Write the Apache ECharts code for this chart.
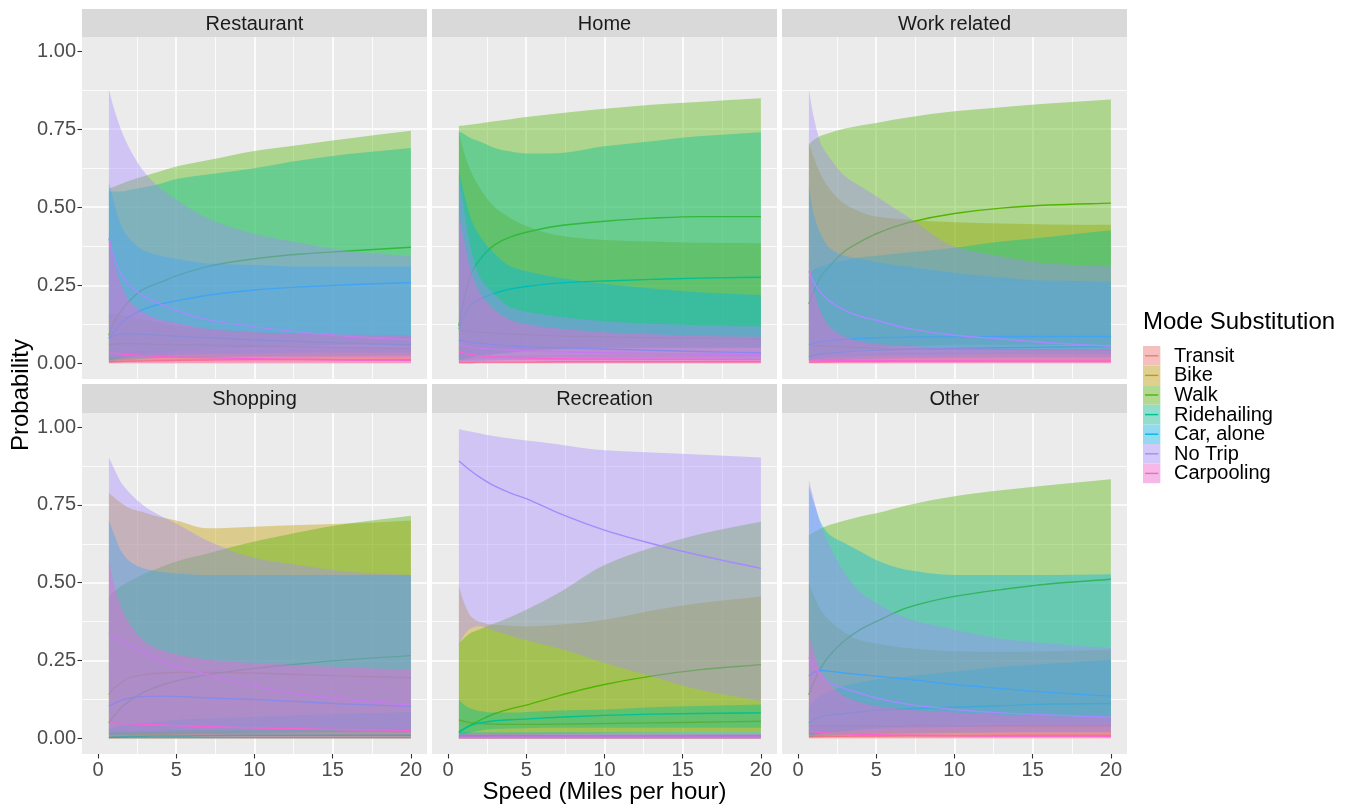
<!DOCTYPE html>
<html>
<head>
<meta charset="utf-8">
<script src="https://cdn.jsdelivr.net/npm/echarts@6/dist/echarts.min.js"></script>
<style>
html,body{margin:0;padding:0;background:#ffffff;}
#chart{width:1351px;height:807px;}
</style>
</head>
<body>
<div id="chart"></div>
<script>
// ---------------- data ----------------
const speeds = [0.7, 1, 1.5, 2, 3, 4, 5, 7, 10, 13, 16, 20];
const modes = ['Transit', 'Bike', 'Walk', 'Ridehailing', 'Car, alone', 'No Trip', 'Carpooling'];
const modeColors = ['#F8766D', '#C49A00', '#53B400', '#00C094', '#00B6EB', '#A58AFF', '#FB61D7'];
const panels = ['Restaurant', 'Home', 'Work related', 'Shopping', 'Recreation', 'Other'];
const xTicks = [0, 5, 10, 15, 20];
const yTicks = [0, 0.25, 0.5, 0.75, 1];

// each array: one row per mode (Transit, Bike, Walk, Ridehailing, Car alone, No Trip, Carpooling)
const restaurantLo = [
  [0,0,0,0,0,0,0,0,0,0,0,0],
  [0.005,0.006,0.007,0.008,0.009,0.01,0.01,0.01,0.01,0.01,0.01,0.01],
  [0.01,0.015,0.02,0.025,0.03,0.035,0.04,0.045,0.05,0.055,0.06,0.06],
  [0.005,0.008,0.01,0.012,0.015,0.017,0.018,0.02,0.022,0.023,0.024,0.025],
  [0.01,0.012,0.015,0.018,0.022,0.025,0.028,0.03,0.032,0.034,0.035,0.035],
  [0.02,0.02,0.02,0.02,0.02,0.02,0.02,0.02,0.02,0.02,0.02,0.02],
  [0.002,0.002,0.002,0.002,0.002,0.002,0.002,0.002,0.002,0.002,0.002,0.002]
];
const restaurantMid = [
  [0.004,0.005,0.006,0.007,0.008,0.009,0.01,0.011,0.012,0.012,0.012,0.012],
  [0.06,0.062,0.063,0.063,0.062,0.061,0.06,0.058,0.055,0.052,0.05,0.048],
  [0.09,0.13,0.17,0.2,0.24,0.26,0.28,0.31,0.335,0.35,0.36,0.372],
  [0.08,0.088,0.094,0.095,0.093,0.09,0.087,0.082,0.075,0.07,0.065,0.059],
  [0.08,0.1,0.13,0.15,0.175,0.19,0.2,0.218,0.235,0.245,0.252,0.259],
  [0.40,0.34,0.285,0.25,0.212,0.19,0.17,0.14,0.117,0.1,0.087,0.075],
  [0.033,0.032,0.03,0.028,0.025,0.022,0.02,0.018,0.015,0.013,0.011,0.01]
];
const restaurantHi = [
  [0.03,0.032,0.035,0.037,0.04,0.042,0.043,0.045,0.046,0.047,0.047,0.048],
  [0.16,0.16,0.155,0.15,0.14,0.13,0.12,0.11,0.1,0.095,0.09,0.09],
  [0.56,0.565,0.575,0.585,0.6,0.615,0.63,0.65,0.68,0.70,0.72,0.745],
  [0.55,0.55,0.55,0.555,0.565,0.575,0.59,0.605,0.625,0.65,0.67,0.69],
  [0.58,0.52,0.44,0.40,0.36,0.345,0.335,0.32,0.315,0.31,0.31,0.31],
  [0.877,0.82,0.745,0.69,0.61,0.56,0.525,0.465,0.415,0.385,0.36,0.342],
  [0.42,0.33,0.25,0.2,0.16,0.14,0.13,0.11,0.1,0.095,0.092,0.09]
];

const homeLo = [
  [0,0,0,0,0,0,0,0,0,0,0,0],
  [0.01,0.01,0.012,0.014,0.016,0.018,0.02,0.02,0.02,0.02,0.02,0.02],
  [0.01,0.015,0.02,0.025,0.03,0.035,0.04,0.045,0.05,0.05,0.05,0.05],
  [0.01,0.015,0.02,0.025,0.03,0.035,0.04,0.045,0.05,0.05,0.05,0.05],
  [0.005,0.006,0.007,0.008,0.009,0.01,0.01,0.01,0.01,0.01,0.01,0.01],
  [0.01,0.01,0.01,0.01,0.01,0.01,0.01,0.01,0.01,0.01,0.01,0.01],
  [0.001,0.001,0.001,0.001,0.001,0.001,0.001,0.001,0.001,0.001,0.001,0.001]
];
const homeMid = [
  [0.003,0.003,0.003,0.004,0.004,0.004,0.004,0.005,0.005,0.005,0.005,0.005],
  [0.107,0.105,0.103,0.1,0.097,0.094,0.092,0.088,0.085,0.082,0.08,0.078],
  [0.12,0.2,0.29,0.33,0.38,0.405,0.42,0.44,0.455,0.465,0.47,0.47],
  [0.11,0.15,0.19,0.205,0.225,0.238,0.246,0.257,0.264,0.269,0.273,0.276],
  [0.075,0.072,0.068,0.065,0.06,0.056,0.053,0.05,0.046,0.042,0.038,0.034],
  [0.059,0.056,0.052,0.049,0.045,0.042,0.04,0.037,0.034,0.032,0.03,0.028],
  [0.037,0.033,0.028,0.025,0.021,0.019,0.017,0.015,0.014,0.013,0.013,0.012]
];
const homeHi = [
  [0.02,0.021,0.022,0.023,0.024,0.025,0.026,0.027,0.028,0.029,0.03,0.03],
  [0.74,0.68,0.61,0.565,0.5,0.465,0.44,0.41,0.395,0.39,0.386,0.385],
  [0.761,0.762,0.765,0.768,0.775,0.782,0.789,0.80,0.815,0.828,0.837,0.849],
  [0.743,0.735,0.72,0.711,0.69,0.678,0.672,0.673,0.695,0.711,0.727,0.74],
  [0.615,0.55,0.46,0.41,0.35,0.31,0.295,0.275,0.255,0.24,0.228,0.219],
  [0.60,0.5,0.36,0.28,0.22,0.18,0.165,0.15,0.135,0.127,0.122,0.118],
  [0.48,0.4,0.29,0.23,0.17,0.14,0.125,0.112,0.1,0.093,0.088,0.085]
];

const workLo = [
  [0,0,0,0,0,0,0,0,0,0,0,0],
  [0.01,0.01,0.01,0.01,0.01,0.01,0.01,0.01,0.01,0.01,0.01,0.01],
  [0.02,0.025,0.03,0.035,0.04,0.045,0.05,0.055,0.06,0.06,0.06,0.06],
  [0.005,0.006,0.008,0.01,0.012,0.014,0.015,0.017,0.018,0.019,0.02,0.02],
  [0.01,0.012,0.015,0.018,0.02,0.022,0.024,0.026,0.028,0.03,0.03,0.03],
  [0.01,0.01,0.01,0.01,0.01,0.01,0.01,0.01,0.01,0.01,0.01,0.01],
  [0.001,0.001,0.001,0.001,0.001,0.001,0.001,0.001,0.001,0.001,0.001,0.001]
];
const workMid = [
  [0.004,0.004,0.005,0.005,0.006,0.006,0.006,0.007,0.007,0.007,0.007,0.007],
  [0.06,0.058,0.056,0.055,0.053,0.05,0.048,0.046,0.045,0.044,0.043,0.042],
  [0.19,0.23,0.28,0.31,0.36,0.39,0.415,0.45,0.48,0.497,0.507,0.513],
  [0.02,0.025,0.03,0.033,0.037,0.04,0.042,0.045,0.048,0.05,0.052,0.053],
  [0.06,0.065,0.07,0.073,0.077,0.08,0.082,0.084,0.085,0.086,0.086,0.086],
  [0.295,0.26,0.225,0.2,0.17,0.15,0.138,0.112,0.09,0.078,0.066,0.055],
  [0.012,0.011,0.011,0.01,0.01,0.009,0.009,0.008,0.008,0.007,0.007,0.007]
];
const workHi = [
  [0.03,0.031,0.032,0.033,0.034,0.035,0.036,0.037,0.038,0.039,0.04,0.04],
  [0.706,0.66,0.6,0.56,0.51,0.485,0.47,0.46,0.452,0.448,0.445,0.444],
  [0.70,0.715,0.73,0.738,0.752,0.762,0.77,0.787,0.807,0.82,0.832,0.845],
  [0.28,0.3,0.31,0.32,0.33,0.34,0.345,0.355,0.37,0.39,0.405,0.426],
  [0.57,0.48,0.41,0.37,0.345,0.335,0.325,0.31,0.29,0.275,0.265,0.262],
  [0.875,0.79,0.70,0.66,0.60,0.567,0.535,0.47,0.374,0.342,0.32,0.31],
  [0.33,0.24,0.16,0.12,0.085,0.07,0.062,0.055,0.05,0.047,0.045,0.043]
];

const shoppingLo = [
  [0,0,0,0,0,0,0,0,0,0,0,0],
  [0.01,0.01,0.01,0.01,0.01,0.01,0.01,0.01,0.01,0.01,0.01,0.01],
  [0,0.002,0.004,0.006,0.008,0.01,0.012,0.014,0.016,0.018,0.02,0.02],
  [0,0,0,0,0,0,0,0,0,0,0,0],
  [0.01,0.011,0.012,0.013,0.014,0.015,0.016,0.017,0.018,0.019,0.02,0.02],
  [0.02,0.021,0.022,0.023,0.024,0.025,0.026,0.027,0.028,0.029,0.03,0.03],
  [0.005,0.005,0.005,0.005,0.005,0.005,0.005,0.005,0.005,0.005,0.005,0.005]
];
const shoppingMid = [
  [0.003,0.003,0.003,0.003,0.003,0.003,0.003,0.003,0.003,0.003,0.003,0.003],
  [0.14,0.16,0.18,0.195,0.205,0.21,0.212,0.212,0.21,0.205,0.2,0.195],
  [0.05,0.07,0.1,0.12,0.15,0.17,0.185,0.205,0.225,0.24,0.253,0.266],
  [0.003,0.004,0.005,0.006,0.007,0.008,0.008,0.009,0.01,0.01,0.01,0.01],
  [0.103,0.112,0.123,0.13,0.135,0.136,0.135,0.13,0.125,0.118,0.11,0.103],
  [0.338,0.328,0.312,0.298,0.274,0.25,0.232,0.205,0.168,0.141,0.125,0.106],
  [0.05,0.049,0.048,0.047,0.045,0.043,0.041,0.038,0.034,0.031,0.028,0.026]
];
const shoppingHi = [
  [0.02,0.02,0.02,0.02,0.02,0.02,0.02,0.02,0.02,0.02,0.02,0.02],
  [0.787,0.775,0.755,0.74,0.725,0.71,0.70,0.675,0.68,0.685,0.69,0.70],
  [0.455,0.47,0.49,0.505,0.53,0.55,0.568,0.594,0.632,0.664,0.69,0.715],
  [0.03,0.035,0.04,0.045,0.05,0.055,0.06,0.065,0.07,0.075,0.08,0.085],
  [0.70,0.66,0.60,0.57,0.545,0.535,0.53,0.525,0.525,0.525,0.525,0.525],
  [0.902,0.87,0.82,0.79,0.745,0.715,0.69,0.635,0.58,0.555,0.535,0.525],
  [0.573,0.5,0.42,0.37,0.31,0.285,0.27,0.253,0.242,0.235,0.228,0.221]
];

const recreationLo = [
  [0,0,0,0,0,0,0,0,0,0,0,0],
  [0,0.002,0.004,0.006,0.008,0.01,0.012,0.014,0.016,0.018,0.02,0.02],
  [0.002,0.003,0.004,0.005,0.006,0.007,0.008,0.009,0.01,0.01,0.01,0.01],
  [0.005,0.01,0.02,0.025,0.03,0.032,0.033,0.034,0.034,0.034,0.034,0.034],
  [0,0,0,0,0,0,0,0,0,0,0,0],
  [0.30,0.33,0.355,0.36,0.345,0.33,0.315,0.29,0.242,0.2,0.157,0.12],
  [0,0,0,0,0,0,0,0,0,0,0,0]
];
const recreationMid = [
  [0.002,0.002,0.002,0.002,0.002,0.002,0.002,0.002,0.002,0.002,0.002,0.002],
  [0.06,0.055,0.05,0.048,0.046,0.045,0.045,0.046,0.048,0.05,0.052,0.055],
  [0.023,0.03,0.045,0.057,0.08,0.095,0.107,0.136,0.173,0.2,0.22,0.237],
  [0.018,0.03,0.042,0.05,0.057,0.06,0.062,0.068,0.074,0.078,0.08,0.082],
  [0.008,0.008,0.008,0.008,0.008,0.008,0.008,0.008,0.008,0.008,0.008,0.008],
  [0.891,0.878,0.858,0.84,0.81,0.788,0.77,0.725,0.669,0.626,0.589,0.546],
  [0.004,0.004,0.004,0.004,0.004,0.004,0.004,0.004,0.004,0.004,0.004,0.004]
];
const recreationHi = [
  [0.012,0.012,0.012,0.012,0.012,0.012,0.012,0.012,0.012,0.012,0.012,0.012],
  [0.488,0.44,0.39,0.375,0.365,0.362,0.36,0.365,0.381,0.41,0.434,0.456],
  [0.306,0.32,0.34,0.35,0.37,0.39,0.413,0.465,0.557,0.612,0.655,0.696],
  [0.125,0.11,0.095,0.088,0.083,0.083,0.085,0.09,0.093,0.1,0.104,0.109],
  [0.02,0.02,0.02,0.02,0.02,0.02,0.02,0.02,0.02,0.02,0.02,0.02],
  [0.993,0.99,0.985,0.98,0.97,0.963,0.957,0.945,0.925,0.918,0.912,0.902],
  [0.015,0.015,0.015,0.015,0.015,0.015,0.015,0.015,0.015,0.015,0.015,0.015]
];

const otherLo = [
  [0,0,0,0,0,0,0,0,0,0,0,0],
  [0.005,0.005,0.005,0.005,0.005,0.005,0.005,0.005,0.005,0.005,0.005,0.005],
  [0.01,0.012,0.015,0.02,0.025,0.03,0.035,0.04,0.045,0.05,0.05,0.05],
  [0.005,0.006,0.008,0.01,0.012,0.014,0.015,0.016,0.018,0.019,0.02,0.02],
  [0.01,0.012,0.015,0.018,0.022,0.026,0.03,0.034,0.037,0.039,0.04,0.04],
  [0.02,0.02,0.02,0.02,0.02,0.02,0.02,0.02,0.02,0.02,0.02,0.02],
  [0.002,0.002,0.002,0.002,0.002,0.002,0.002,0.002,0.002,0.002,0.002,0.002]
];
const otherMid = [
  [0.005,0.006,0.006,0.007,0.007,0.008,0.008,0.009,0.009,0.01,0.01,0.01],
  [0.04,0.04,0.04,0.04,0.04,0.04,0.04,0.04,0.04,0.04,0.04,0.04],
  [0.14,0.18,0.23,0.265,0.315,0.35,0.375,0.42,0.456,0.478,0.496,0.511],
  [0.05,0.06,0.07,0.075,0.08,0.085,0.09,0.095,0.1,0.105,0.11,0.112],
  [0.2,0.212,0.218,0.216,0.21,0.205,0.2,0.19,0.173,0.16,0.148,0.136],
  [0.26,0.235,0.2,0.18,0.16,0.145,0.13,0.11,0.093,0.082,0.075,0.068],
  [0.023,0.021,0.019,0.017,0.015,0.013,0.012,0.01,0.009,0.008,0.008,0.007]
];
const otherHi = [
  [0.03,0.032,0.034,0.036,0.038,0.04,0.042,0.044,0.046,0.048,0.05,0.05],
  [0.5,0.46,0.41,0.38,0.34,0.315,0.305,0.29,0.28,0.278,0.28,0.285],
  [0.653,0.662,0.675,0.685,0.70,0.713,0.723,0.749,0.778,0.797,0.813,0.832],
  [0.1,0.12,0.14,0.15,0.17,0.18,0.19,0.2,0.215,0.23,0.24,0.253],
  [0.81,0.76,0.69,0.655,0.627,0.6,0.573,0.541,0.525,0.525,0.525,0.527],
  [0.83,0.77,0.68,0.62,0.53,0.47,0.435,0.385,0.349,0.32,0.305,0.29],
  [0.328,0.28,0.21,0.175,0.135,0.115,0.103,0.092,0.083,0.076,0.071,0.067]
];

// ---------------- layout ----------------
const allLo = [restaurantLo, homeLo, workLo, shoppingLo, recreationLo, otherLo];
const allMid = [restaurantMid, homeMid, workMid, shoppingMid, recreationMid, otherMid];
const allHi = [restaurantHi, homeHi, workHi, shoppingHi, recreationHi, otherHi];

const FONT = '"Liberation Sans", Arial, sans-serif';
const colLeft = [82, 432, 782];
const panelW = 345;
const rowTop = [37, 413];
const panelH = [342, 341];
const stripTop = [9, 384];
const stripH = [28, 29];

function rgba(hex, a) {
  const r = parseInt(hex.slice(1, 3), 16), g = parseInt(hex.slice(3, 5), 16), b = parseInt(hex.slice(5, 7), 16);
  return 'rgba(' + r + ',' + g + ',' + b + ',' + a + ')';
}

// monotone cubic (Fritsch-Carlson) tangents in pixel space
function tangents(pts) {
  const n = pts.length, dx = [], m = [];
  for (let i = 0; i < n - 1; i++) {
    dx[i] = pts[i + 1][0] - pts[i][0];
    m[i] = (pts[i + 1][1] - pts[i][1]) / dx[i];
  }
  const t = [m[0]];
  for (let i = 1; i < n - 1; i++) {
    if (m[i - 1] * m[i] <= 0) t[i] = 0;
    else t[i] = 3 * (dx[i - 1] + dx[i]) / ((2 * dx[i] + dx[i - 1]) / m[i - 1] + (dx[i] + 2 * dx[i - 1]) / m[i]);
  }
  t[n - 1] = m[n - 2];
  return { t: t, dx: dx };
}
function curveForward(pts) {
  const n = pts.length, tg = tangents(pts);
  let d = '';
  for (let i = 0; i < n - 1; i++) {
    const h = tg.dx[i];
    d += 'C' + (pts[i][0] + h / 3) + ' ' + (pts[i][1] + tg.t[i] * h / 3) + ' ' +
      (pts[i + 1][0] - h / 3) + ' ' + (pts[i + 1][1] - tg.t[i + 1] * h / 3) + ' ' +
      pts[i + 1][0] + ' ' + pts[i + 1][1];
  }
  return d;
}
function curveBackward(pts) {
  const n = pts.length, tg = tangents(pts);
  let d = '';
  for (let i = n - 2; i >= 0; i--) {
    const h = tg.dx[i];
    d += 'C' + (pts[i + 1][0] - h / 3) + ' ' + (pts[i + 1][1] - tg.t[i + 1] * h / 3) + ' ' +
      (pts[i][0] + h / 3) + ' ' + (pts[i][1] + tg.t[i] * h / 3) + ' ' +
      pts[i][0] + ' ' + pts[i][1];
  }
  return d;
}
function linePath(pts) {
  return 'M' + pts[0][0] + ' ' + pts[0][1] + curveForward(pts);
}
function ribbonPath(upper, lower) {
  const n = upper.length;
  return 'M' + upper[0][0] + ' ' + upper[0][1] + curveForward(upper) +
    'L' + lower[n - 1][0] + ' ' + lower[n - 1][1] + curveBackward(lower) + 'Z';
}

const grids = [], xAxes = [], yAxes = [], series = [], graphics = [];

panels.forEach(function (name, p) {
  const col = p % 3, row = Math.floor(p / 3);
  grids.push({
    left: colLeft[col], top: rowTop[row], width: panelW, height: panelH[row],
    show: true, backgroundColor: '#EBEBEB', borderWidth: 0, containLabel: false
  });
  const bottomRow = row === 1, leftCol = col === 0;
  xAxes.push({
    type: 'value', gridIndex: p, min: -1.02, max: 21.03, position: 'bottom',
    minInterval: 5, maxInterval: 5, splitNumber: 4,
    axisLine: { show: false, onZero: false },
    axisTick: { show: bottomRow, customValues: xTicks, length: 4.5, lineStyle: { color: '#333333', width: 1.1 } },
    axisLabel: { show: bottomRow, customValues: xTicks, fontSize: 20, color: '#4D4D4D', fontFamily: FONT, margin: 6 },
    splitLine: { show: true, showMinLine: false, showMaxLine: false, lineStyle: { color: '#FFFFFF', width: 1.6 } },
    minorTick: { show: false, splitNumber: 2 },
    minorSplitLine: { show: true, lineStyle: { color: '#FFFFFF', width: 0.8 } }
  });
  yAxes.push({
    type: 'value', gridIndex: p, min: -0.05, max: 1.045, position: 'left',
    minInterval: 0.25, maxInterval: 0.25, splitNumber: 4,
    axisLine: { show: false, onZero: false },
    axisTick: { show: leftCol, customValues: yTicks, length: 4.5, lineStyle: { color: '#333333', width: 1.1 } },
    axisLabel: {
      show: leftCol, customValues: yTicks, fontSize: 20, color: '#4D4D4D', fontFamily: FONT, margin: 6,
      formatter: function (v) { return Number(v).toFixed(2); }
    },
    splitLine: { show: true, showMinLine: false, showMaxLine: false, lineStyle: { color: '#FFFFFF', width: 1.6 } },
    minorTick: { show: false, splitNumber: 2 },
    minorSplitLine: { show: true, lineStyle: { color: '#FFFFFF', width: 0.8 } }
  });

  // per mode: ribbon, then its mean line; later modes' ribbons cover earlier lines
  modes.forEach(function (mode, m) {
    const lo = allLo[p][m], hi = allHi[p][m], mid = allMid[p][m];
    series.push({
      type: 'custom', name: mode + ' band', xAxisIndex: p, yAxisIndex: p, z: 2, silent: true,
      data: speeds.map(function (x, k) { return [x, lo[k], hi[k]]; }),
      encode: { x: 0, y: [1, 2] },
      renderItem: function (params, api) {
        if (params.dataIndex !== 0) return null;
        const upper = speeds.map(function (x, k) { return api.coord([x, hi[k]]); });
        const lower = speeds.map(function (x, k) { return api.coord([x, lo[k]]); });
        return {
          type: 'path', z2: 2 * m,
          shape: { pathData: ribbonPath(upper, lower) },
          style: { fill: rgba(modeColors[m], 0.4), stroke: null, lineWidth: 0 }
        };
      }
    });
    series.push({
      type: 'custom', name: mode, xAxisIndex: p, yAxisIndex: p, z: 2, silent: true,
      data: speeds.map(function (x, k) { return [x, mid[k]]; }),
      encode: { x: 0, y: 1 },
      renderItem: function (params, api) {
        if (params.dataIndex !== 0) return null;
        const pts = speeds.map(function (x, k) { return api.coord([x, mid[k]]); });
        return {
          type: 'path', z2: 2 * m + 1,
          shape: { pathData: linePath(pts) },
          style: { fill: null, stroke: modeColors[m], lineWidth: 1.4 }
        };
      }
    });
  });

  // strip
  graphics.push({
    type: 'rect', silent: true,
    shape: { x: colLeft[col], y: stripTop[row], width: panelW, height: stripH[row] },
    style: { fill: '#D9D9D9' }
  });
  graphics.push({
    type: 'text', silent: true,
    x: colLeft[col] + panelW / 2, y: stripTop[row] + stripH[row] / 2 + 1,
    style: { text: name, fontSize: 20, fontFamily: FONT, fill: '#1A1A1A', textAlign: 'center', textVerticalAlign: 'middle' }
  });
});

// axis titles
graphics.push({
  type: 'text', silent: true, x: 21, y: 395, rotation: Math.PI / 2,
  style: { text: 'Probability', fontSize: 24, fontFamily: FONT, fill: '#000000', textAlign: 'center', textVerticalAlign: 'middle' }
});
graphics.push({
  type: 'text', silent: true, x: 604.5, y: 792,
  style: { text: 'Speed (Miles per hour)', fontSize: 24, fontFamily: FONT, fill: '#000000', textAlign: 'center', textVerticalAlign: 'middle' }
});

// legend
const legX = 1143, legTop = 346, keyW = 17.3, keyH = 19.6;
graphics.push({
  type: 'text', silent: true, x: legX, y: 322,
  style: { text: 'Mode Substitution', fontSize: 24, fontFamily: FONT, fill: '#000000', textAlign: 'left', textVerticalAlign: 'middle' }
});
modes.forEach(function (mode, m) {
  const y0 = legTop + m * keyH;
  graphics.push({ type: 'rect', silent: true, shape: { x: legX, y: y0, width: keyW, height: keyH }, style: { fill: '#F2F2F2' } });
  graphics.push({ type: 'rect', silent: true, shape: { x: legX, y: y0, width: keyW, height: keyH }, style: { fill: rgba(modeColors[m], 0.4) } });
  graphics.push({ type: 'line', silent: true, shape: { x1: legX + 2, y1: y0 + keyH / 2, x2: legX + keyW - 2, y2: y0 + keyH / 2 }, style: { stroke: modeColors[m], lineWidth: 1.4 } });
  graphics.push({
    type: 'text', silent: true, x: legX + 31, y: y0 + keyH / 2 + 0.5,
    style: { text: mode, fontSize: 20, fontFamily: FONT, fill: '#000000', textAlign: 'left', textVerticalAlign: 'middle' }
  });
});

const chart = echarts.init(document.getElementById('chart'), null, { renderer: 'canvas' });
chart.setOption({
  animation: false,
  backgroundColor: '#FFFFFF',
  textStyle: { fontFamily: FONT },
  grid: grids,
  xAxis: xAxes,
  yAxis: yAxes,
  series: series,
  graphic: { elements: graphics }
});
</script>
</body>
</html>
